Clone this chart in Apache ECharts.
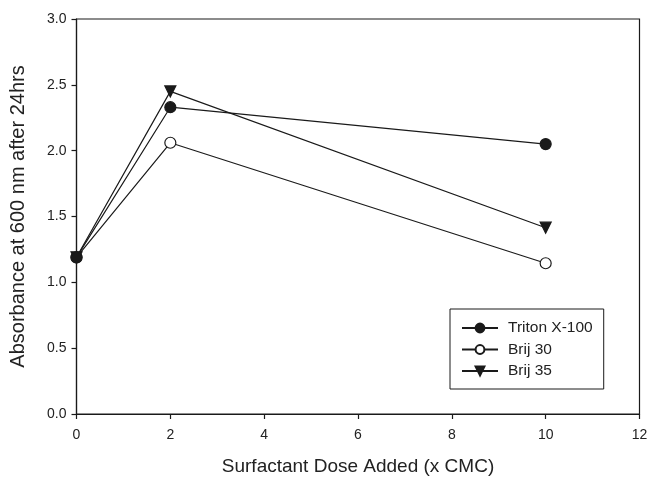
<!DOCTYPE html>
<html>
<head>
<meta charset="utf-8">
<script src="https://cdn.jsdelivr.net/npm/echarts@6/dist/echarts.min.js"></script>
<style>
  html, body { margin: 0; padding: 0; background: #fff; }
  #chart { width: 650px; height: 479px; }
</style>
</head>
<body>
<div id="chart"></div>
<script>
// Surfactant dose (x CMC)
const doses = [0, 2, 10];

// Absorbance at 600 nm after 24 hrs
const tritonX100 = [1.19, 2.33, 2.05];
const brij30 = [1.19, 2.06, 1.145];
const brij35 = [1.19, 2.45, 1.415];

const xTicks = { min: 0, max: 12, interval: 2 };
const yTicks = { min: 0, max: 3, interval: 0.5 };

const ink = '#1a1a1a';
const font = 'Liberation Sans, Arial, sans-serif';

function pairs(values) {
  return doses.map((d, i) => [d, values[i]]);
}

function lineSeries(name, values, symbol, fill, rotate, z) {
  return {
    name: name,
    type: 'line',
    z: z,
    data: pairs(values),
    symbol: symbol,
    symbolSize: 11,
    symbolRotate: rotate || 0,
    showAllSymbol: true,
    lineStyle: { color: ink, width: 1.2 },
    itemStyle: { color: fill, borderColor: ink, borderWidth: 1.2 },
    emphasis: { disabled: true },
    animation: false
  };
}

const chart = echarts.init(document.getElementById('chart'), null, { renderer: 'canvas' });

chart.setOption({
  backgroundColor: '#ffffff',
  animation: false,
  grid: {
    left: 76.5, right: 10.5, top: 19, bottom: 65,
    outerBoundsMode: 'none',
    containLabel: false,
    show: true, borderColor: ink, borderWidth: 1.2, backgroundColor: 'transparent'
  },
  legend: {
    orient: 'vertical',
    left: 450, top: 309,
    padding: [11, 11, 10, 11],
    itemGap: 5.5,
    itemWidth: 36, itemHeight: 11,
    borderColor: ink, borderWidth: 1,
    textStyle: { fontFamily: font, fontSize: 15.5, color: '#222', padding: [0, 0, 0, 5] },
    data: ['Triton X-100', 'Brij 30', 'Brij 35']
  },
  xAxis: {
    type: 'value',
    min: xTicks.min, max: xTicks.max, interval: xTicks.interval,
    name: 'Surfactant Dose Added (x CMC)',
    nameLocation: 'middle', nameGap: 43,
    nameTextStyle: { fontFamily: font, fontSize: 19, color: '#222' },
    axisLine: { show: true, lineStyle: { color: ink, width: 1.2 } },
    axisTick: { show: true, inside: false, length: 5, lineStyle: { color: ink, width: 1.2 } },
    axisLabel: { fontFamily: font, fontSize: 14, color: '#222', margin: 14 },
    splitLine: { show: false }
  },
  yAxis: {
    type: 'value',
    min: yTicks.min, max: yTicks.max, interval: yTicks.interval,
    name: 'Absorbance at 600 nm after 24hrs',
    nameLocation: 'middle', nameGap: 48,
    nameTextStyle: { fontFamily: font, fontSize: 20, color: '#222' },
    axisLine: { show: true, lineStyle: { color: ink, width: 1.2 } },
    axisTick: { show: true, inside: false, length: 5, lineStyle: { color: ink, width: 1.2 } },
    axisLabel: {
      fontFamily: font, fontSize: 14, color: '#222', margin: 10,
      formatter: v => v.toFixed(1)
    },
    splitLine: { show: false }
  },
  series: [
    lineSeries('Triton X-100', tritonX100, 'circle', ink, 0, 4),
    lineSeries('Brij 30', brij30, 'circle', '#ffffff', 0, 2),
    lineSeries('Brij 35', brij35, 'triangle', ink, 180, 3)
  ]
});
</script>
</body>
</html>
